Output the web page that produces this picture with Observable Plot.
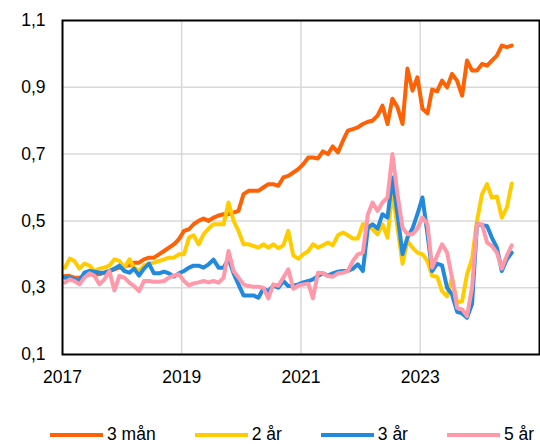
<!DOCTYPE html>
<html><head><meta charset="utf-8">
<script src="https://cdn.jsdelivr.net/npm/d3@7"></script>
<script src="https://cdn.jsdelivr.net/npm/@observablehq/plot@0.6"></script>
<style>
body{margin:0;background:#fff;font-family:Arial,"Liberation Sans",sans-serif;overflow:hidden;}
#legend{display:flex;align-items:center;height:19px;line-height:19px;padding-left:50px;font-size:17.5px;color:#000;white-space:nowrap;}
.item{display:flex;align-items:center;margin-right:39px;flex-shrink:0;}
.item:last-child{margin-right:0;}
.sw{width:53px;height:4px;margin-right:4px;flex-shrink:0;}
</style></head><body><div id="chart"></div><div id="legend"></div>
<script>
const seriesNames = ["3 mån", "2 år", "3 år", "5 år"];
const seriesColors = ["#ff6105", "#ffcc00", "#2189de", "#ff99aa"];
const startYear = 2017;
const yTicks = [0.1, 0.3, 0.5, 0.7, 0.9, 1.1];
const xTickYears = [2017, 2019, 2021, 2023];

const m3 = [0.335,0.335,0.33,0.33,0.335,0.34,0.34,0.34,0.345,0.35,
0.355,0.36,0.365,0.367,0.375,0.375,0.385,0.39,0.39,0.40,
0.41,0.42,0.43,0.445,0.47,0.475,0.49,0.50,0.507,0.50,
0.51,0.516,0.52,0.52,0.525,0.53,0.58,0.59,0.59,0.59,
0.60,0.61,0.61,0.605,0.63,0.635,0.645,0.655,0.67,0.69,
0.69,0.687,0.708,0.70,0.723,0.705,0.74,0.77,0.775,0.78,
0.79,0.797,0.80,0.815,0.845,0.79,0.866,0.84,0.79,0.956,
0.89,0.93,0.836,0.822,0.893,0.888,0.92,0.90,0.94,0.92,
0.875,0.98,0.95,0.95,0.97,0.965,0.98,0.995,1.025,1.02,
1.025];
const y2 = [0.36,0.387,0.38,0.357,0.372,0.366,0.35,0.357,0.36,0.366,
0.385,0.38,0.36,0.385,0.36,0.35,0.366,0.372,0.375,0.38,
0.385,0.39,0.39,0.40,0.40,0.45,0.457,0.43,0.46,0.477,
0.49,0.49,0.49,0.555,0.50,0.47,0.43,0.43,0.425,0.42,
0.43,0.42,0.43,0.418,0.427,0.47,0.396,0.387,0.40,0.41,
0.43,0.42,0.427,0.435,0.427,0.457,0.465,0.457,0.447,0.447,
0.49,0.487,0.475,0.46,0.49,0.45,0.59,0.48,0.372,0.44,
0.42,0.405,0.40,0.38,0.336,0.333,0.29,0.274,0.33,0.255,
0.26,0.34,0.387,0.50,0.58,0.61,0.57,0.573,0.51,0.54,
0.612];
const y3 = [0.33,0.33,0.325,0.32,0.345,0.35,0.348,0.345,0.345,0.35,
0.357,0.366,0.35,0.345,0.357,0.336,0.357,0.372,0.343,0.343,
0.348,0.343,0.333,0.343,0.35,0.36,0.366,0.366,0.36,0.37,
0.384,0.36,0.36,0.387,0.343,0.31,0.277,0.277,0.277,0.27,
0.297,0.29,0.306,0.30,0.32,0.305,0.306,0.31,0.316,0.32,
0.325,0.335,0.343,0.336,0.343,0.348,0.35,0.35,0.357,0.37,
0.35,0.48,0.49,0.477,0.52,0.51,0.63,0.52,0.40,0.45,
0.477,0.52,0.57,0.46,0.35,0.372,0.367,0.30,0.28,0.228,
0.223,0.21,0.252,0.49,0.487,0.485,0.45,0.42,0.35,0.385,
0.405];
const y5 = [0.315,0.325,0.32,0.31,0.33,0.343,0.336,0.31,0.325,0.35,
0.292,0.335,0.33,0.315,0.305,0.29,0.32,0.32,0.318,0.318,
0.32,0.33,0.336,0.34,0.32,0.307,0.313,0.316,0.32,0.316,
0.32,0.315,0.33,0.41,0.35,0.33,0.31,0.305,0.303,0.303,
0.30,0.268,0.31,0.306,0.33,0.355,0.297,0.306,0.31,0.312,
0.268,0.345,0.343,0.335,0.333,0.343,0.345,0.35,0.38,0.40,
0.405,0.52,0.555,0.53,0.555,0.57,0.70,0.58,0.48,0.46,
0.46,0.477,0.51,0.49,0.36,0.396,0.43,0.405,0.33,0.24,
0.235,0.215,0.30,0.49,0.49,0.435,0.425,0.405,0.357,0.396,
0.427];

const allSeries = [m3, y2, y3, y5];
const dateOf = i => new Date(Date.UTC(startYear, i, 15));
const rows = allSeries.map((vals, s) => vals.map((v, i) => ({date: dateOf(i), value: v, series: seriesNames[s]})));
const xTicks = xTickYears.map(y => new Date(Date.UTC(y, 0, 1)));
const fmt = d => d.toFixed(1).replace(".", ",");

const chart = Plot.plot({
  width: 540, height: 425,
  marginTop: 20, marginBottom: 71, marginLeft: 62, marginRight: 1,
  style: {fontFamily: 'Arial, "Liberation Sans", sans-serif', fontSize: "17.5px", background: "#fff", color: "#000"},
  x: {type: "utc", domain: [new Date(Date.UTC(2017,0,1)), new Date(Date.UTC(2025,0,1))]},
  y: {domain: [0.1, 1.1]},
  marks: [
    Plot.ruleY(yTicks.slice(1, -1), {stroke: "#d9d9d9", strokeWidth: 1.5}),
    Plot.ruleX(xTicks.slice(1), {stroke: "#d9d9d9", strokeWidth: 1.5}),
    ...rows.map((r, s) => Plot.line(r, {x: "date", y: "value", stroke: seriesColors[s], strokeWidth: 4, strokeLinejoin: "round", strokeLinecap: "round"})),
    Plot.frame({stroke: "#000", strokeWidth: 2}),
    Plot.axisY(yTicks, {tickSize: 0, tickPadding: 17, tickFormat: fmt, fontSize: 17.5, label: null}),
    Plot.axisX(xTicks, {tickSize: 0, tickPadding: 16, tickFormat: d => String(d.getUTCFullYear()), fontSize: 17.5, label: null})
  ]
});
document.getElementById("chart").appendChild(chart);

const legend = document.getElementById("legend");
seriesNames.forEach((n, i) => {
  const it = document.createElement("div"); it.className = "item";
  const sw = document.createElement("div"); sw.className = "sw"; sw.style.background = seriesColors[i];
  const t = document.createElement("span"); t.textContent = n;
  it.appendChild(sw); it.appendChild(t); legend.appendChild(it);
});
</script></body></html>
